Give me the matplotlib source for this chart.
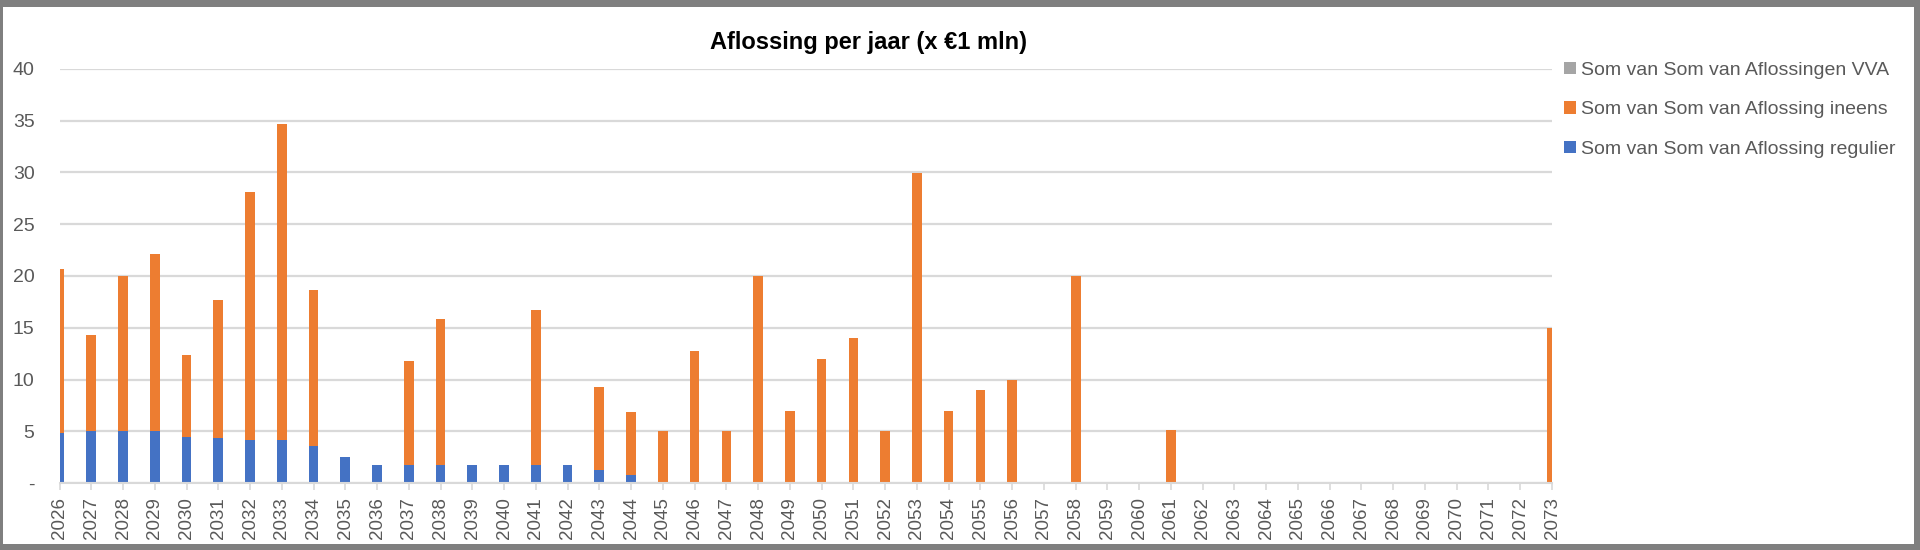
import matplotlib
matplotlib.use("Agg")
import matplotlib.pyplot as plt
from matplotlib.patches import Rectangle, Patch
import numpy as np

# ---- data ----
years = list(range(2026, 2074))
regulier = [4.8, 5.0, 5.0, 5.0, 4.4, 4.3, 4.2, 4.2, 3.6, 2.5,
            1.7, 1.7, 1.7, 1.7, 1.7, 1.7, 1.7, 1.3, 0.8] + [0.0] * 29
ineens = [15.9, 9.3, 15.0, 17.1, 8.0, 13.4, 23.9, 30.5, 15.0, 0.0,
          0.0, 10.1, 14.1, 0.0, 0.0, 15.0, 0.0, 8.0, 6.1, 5.0,
          12.8, 5.0, 20.0, 7.0, 12.0, 14.0, 5.0, 30.0, 7.0, 9.0,
          10.0, 0.0, 20.0, 0.0, 0.0, 5.1] + [0.0] * 11 + [15.0]
vva = [0.0] * 48

title = "Aflossing per jaar (x €1 mln)"
lbl_vva = "Som van Som van Aflossingen VVA"
lbl_ineens = "Som van Som van Aflossing ineens"
lbl_regulier = "Som van Som van Aflossing regulier"
yticks = [0, 5, 10, 15, 20, 25, 30, 35, 40]
ytick_labels = ["-"] + [str(v) for v in yticks[1:]]

c_blue = "#4472C4"
c_orange = "#ED7D31"
c_gray = "#A5A5A5"
txt = "#595959"
grid = "#D9D9D9"

plt.rcParams['font.family'] = ['Liberation Sans', 'DejaVu Sans']

W, H = 1920, 550
fig = plt.figure(figsize=(W / 100, H / 100), dpi=100)
fig.patch.set_facecolor("#7F7F7F")
fig.add_artist(Rectangle((3 / W, 6 / H), (1914 - 3) / W, (H - 7 - 6) / H,
                         transform=fig.transFigure, facecolor="white",
                         edgecolor="none", zorder=0))

left_px, right_px, top_px, bot_px = 59.5, 1552, 69, 483
ax = fig.add_axes([left_px / W, 1 - bot_px / H, (right_px - left_px) / W,
                   (bot_px - top_px) / H])
ax.set_facecolor("white")

x = np.arange(len(years))
reg = np.array(regulier)
ine = np.array(ineens)
vv = np.array(vva)
bw = 0.305
ax.bar(x, reg, width=bw, color=c_blue, zorder=3)
ax.bar(x, ine, width=bw, bottom=reg, color=c_orange, zorder=3)
ax.bar(x, vv, width=bw, bottom=reg + ine, color=c_gray, zorder=3)

ax.set_xlim(0, len(years) - 1)
ax.set_ylim(0, 40)
ax.set_yticks(yticks)
ax.set_yticklabels(ytick_labels)
ax.set_xticks(x)
ax.set_xticklabels([str(y) for y in years], rotation=90)

for s in ["top", "right", "left"]:
    ax.spines[s].set_visible(False)
ax.spines["bottom"].set_color(grid)
ax.spines["bottom"].set_linewidth(1.5)
ax.spines["bottom"].set_zorder(4)

ax.grid(axis="y", color=grid, linewidth=1.6, zorder=0)
ax.set_axisbelow(True)
ax.tick_params(axis="y", length=0, pad=18, labelsize=14, labelcolor=txt)
ax.tick_params(axis="x", length=5, width=1.2, color=grid, pad=5,
               labelsize=13.5, labelcolor=txt)

fig.text(868 / W, 1 - 43 / H, title, ha="center", va="center",
         fontsize=17, fontweight="bold", color="black")

handles = [Patch(facecolor=c_gray, edgecolor="none"),
           Patch(facecolor=c_orange, edgecolor="none"),
           Patch(facecolor=c_blue, edgecolor="none")]
labels = [lbl_vva, lbl_ineens, lbl_regulier]
fig.legend(handles, labels, loc="upper left",
           bbox_to_anchor=(1564 / W, 1 - 62 / H), frameon=False,
           fontsize=14, labelcolor=txt, handlelength=0.6, handleheight=0.6,
           handletextpad=0.25, labelspacing=1.15, borderaxespad=0,
           borderpad=0)

fig.savefig("out.png", dpi=100, facecolor=fig.get_facecolor())
